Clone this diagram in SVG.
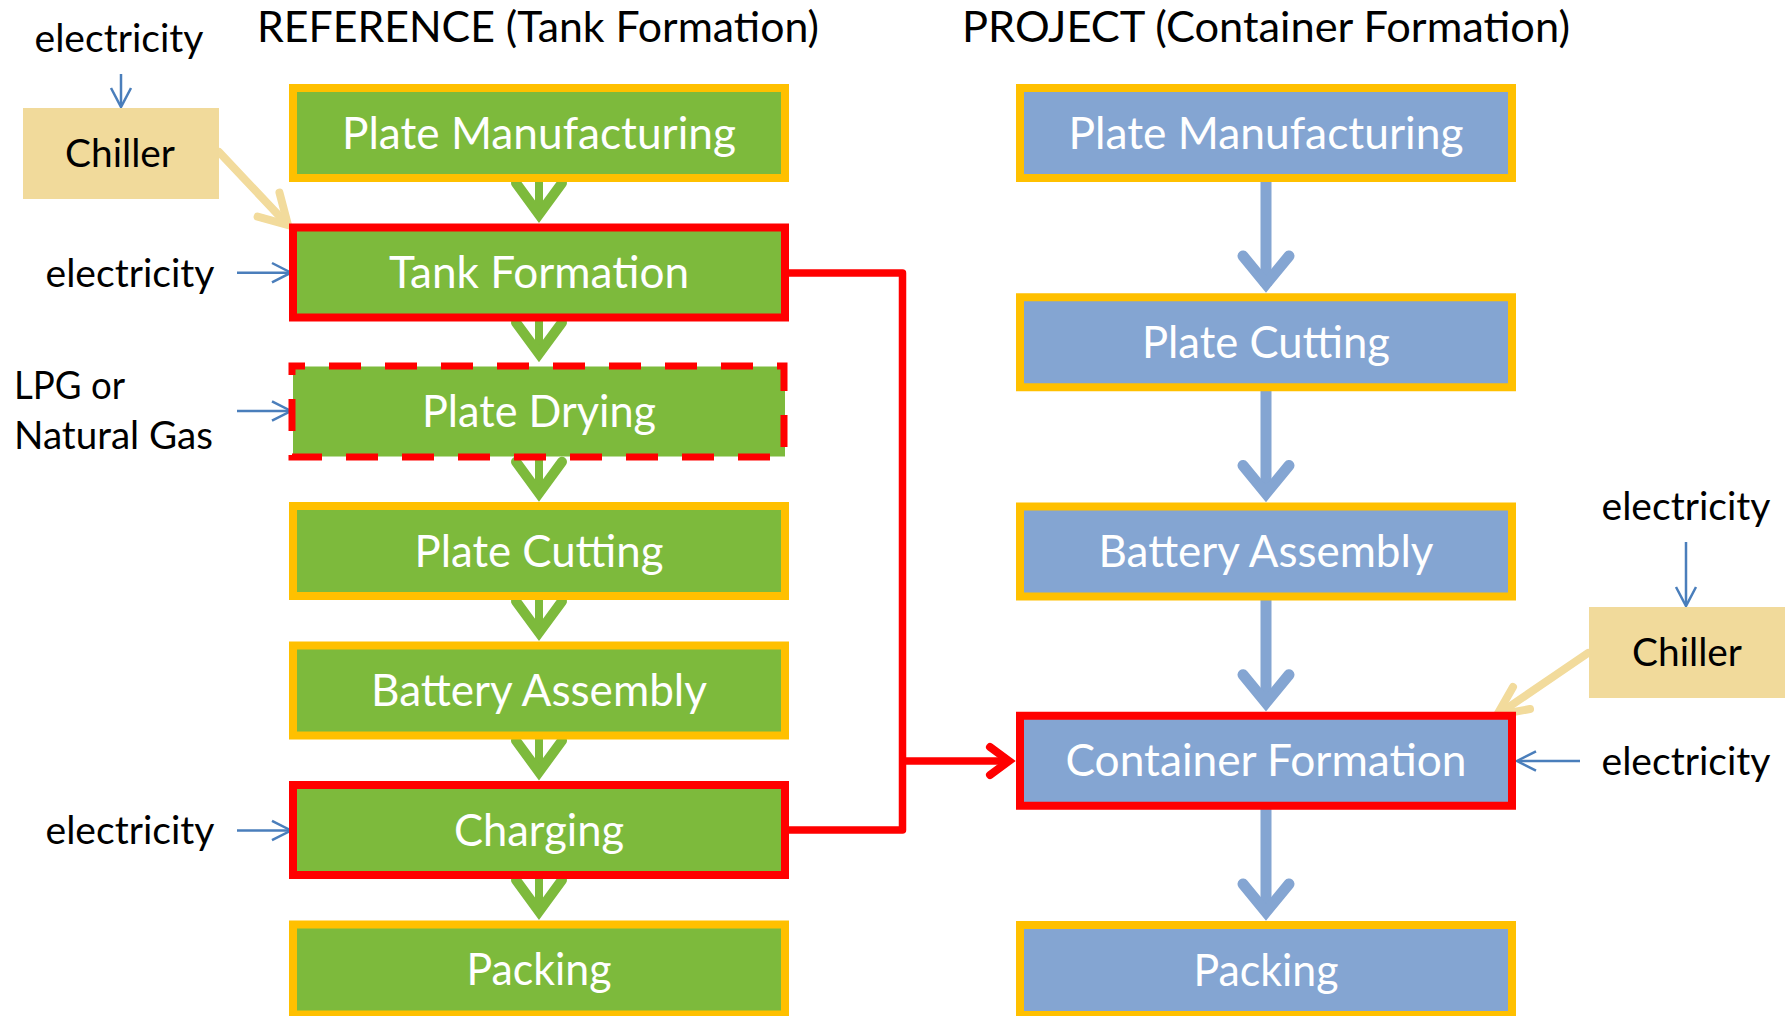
<svg xmlns="http://www.w3.org/2000/svg" width="1789" height="1016" viewBox="0 0 1789 1016">
<style>
text { font-family: Lato, "Open Sans", "Liberation Sans", sans-serif; }
.title { font-size: 43px; fill: #000; text-anchor: middle; }
.lbl { font-size: 38px; fill: #000; }
.mid { text-anchor: middle; }
.bt { font-size: 44px; fill: #fff; text-anchor: middle; }
.gbox { fill: #7DBA3C; stroke: #FFC000; stroke-width: 8; }
.gred { fill: #7DBA3C; stroke: #FF0000; stroke-width: 8; }
.bbox { fill: #84A5D2; stroke: #FFC000; stroke-width: 8; }
.bred { fill: #84A5D2; stroke: #FF0000; stroke-width: 8; }
.chiller { fill: #F1DA9B; }
.garr { stroke: #7DBA3C; fill: none; }
.barr { stroke: #84A5D2; fill: none; }
.thin { stroke: #4A7EBB; stroke-width: 2.5; fill: none; }
.tan { stroke: #F2DB9C; stroke-width: 8; fill: none; stroke-linecap: round; }
.red { stroke: #FF0000; stroke-width: 7.5; fill: none; stroke-linejoin: round; }
</style>

<text class="title" x="538" y="42" textLength="562" lengthAdjust="spacingAndGlyphs">REFERENCE (Tank Formation)</text>
<text class="title" x="1266" y="42" textLength="608" lengthAdjust="spacingAndGlyphs">PROJECT (Container Formation)</text>

<g id="connectors">
  <g class="garr">
    <g id="ga1"><line x1="539" y1="179" x2="539" y2="216" stroke-width="8"/><polyline points="516,183 539,214.5 562,183" stroke-width="10" stroke-linecap="round"/></g>
    <g id="ga2"><line x1="539" y1="318" x2="539" y2="355" stroke-width="8"/><polyline points="516,322.5 539,353.7 562,322.5" stroke-width="10" stroke-linecap="round"/></g>
    <g id="ga3"><line x1="539" y1="457" x2="539" y2="494" stroke-width="8"/><polyline points="516,461.7 539,493.2 562,461.7" stroke-width="10" stroke-linecap="round"/></g>
    <g id="ga4"><line x1="539" y1="597" x2="539" y2="634" stroke-width="8"/><polyline points="516,601.2 539,632.6 562,601.2" stroke-width="10" stroke-linecap="round"/></g>
    <g id="ga5"><line x1="539" y1="736" x2="539" y2="773" stroke-width="8"/><polyline points="516,740.6 539,772 562,740.6" stroke-width="10" stroke-linecap="round"/></g>
    <g id="ga6"><line x1="539" y1="876" x2="539" y2="913" stroke-width="8"/><polyline points="516,880 539,911.5 562,880" stroke-width="10" stroke-linecap="round"/></g>
  </g>
  <g class="barr">
    <g id="ba1"><line x1="1266" y1="178" x2="1266" y2="286" stroke-width="11"/><polyline points="1243,256 1266,284 1289,256" stroke-width="11" stroke-linecap="round"/></g>
    <g id="ba2"><line x1="1266" y1="387" x2="1266" y2="495" stroke-width="11"/><polyline points="1243,465.5 1266,493.5 1289,465.5" stroke-width="11" stroke-linecap="round"/></g>
    <g id="ba3"><line x1="1266" y1="596" x2="1266" y2="704" stroke-width="11"/><polyline points="1243,674.75 1266,702.75 1289,674.75" stroke-width="11" stroke-linecap="round"/></g>
    <g id="ba4"><line x1="1266" y1="806" x2="1266" y2="913" stroke-width="11"/><polyline points="1243,884 1266,912 1289,884" stroke-width="11" stroke-linecap="round"/></g>
  </g>
  <g class="thin">
    <line x1="121" y1="74" x2="121" y2="106"/><polyline points="111,88 121,107 131,88"/>
    <line x1="237" y1="272.7" x2="290" y2="272.7"/><polyline points="272,263 291,272.7 272,282.4"/>
    <line x1="237" y1="411" x2="290" y2="411"/><polyline points="272,401.3 291,411 272,420.7"/>
    <line x1="237" y1="830.5" x2="290" y2="830.5"/><polyline points="272,820.8 291,830.5 272,840.2"/>
    <line x1="1686" y1="542" x2="1686" y2="605"/><polyline points="1676,587 1686,606 1696,587"/>
    <line x1="1580" y1="761" x2="1518" y2="761"/><polyline points="1536,751.3 1517,761 1536,770.7"/>
  </g>
  <g class="tan">
    <line x1="219" y1="152" x2="285" y2="222"/><polyline points="257.6,216.7 288,225 279.5,192.7"/>
    <line x1="1588" y1="653" x2="1500" y2="713"/><polyline points="1513,687 1497,715 1530,709"/>
  </g>
  <g class="red">
    <path d="M789 273 H902.5 V830 H789"/>
    <path d="M902.5 761 H1010"/>
    <polyline points="990,747 1009,761 990,775" stroke-width="8" stroke-linecap="round" stroke-linejoin="miter"/>
  </g>
</g>

<g id="l_plate_manufacturing"><rect class="gbox" x="293" y="88" width="492" height="90"/><text class="bt" x="539" y="148.5" textLength="394" lengthAdjust="spacingAndGlyphs">Plate Manufacturing</text></g>
<g id="l_tank_formation"><rect class="gred" x="293" y="227.5" width="492" height="90"/><text class="bt" x="539" y="288" textLength="300" lengthAdjust="spacingAndGlyphs">Tank Formation</text></g>
<g id="l_plate_drying"><rect x="293" y="366.5" width="492" height="90" fill="#7DBA3C"/><rect x="292" y="366" width="492" height="91" fill="none" stroke="#FF0000" stroke-width="7" stroke-dasharray="32 24" stroke-dashoffset="19"/><text class="bt" x="539" y="427" textLength="234" lengthAdjust="spacingAndGlyphs">Plate Drying</text></g>
<g id="l_plate_cutting"><rect class="gbox" x="293" y="506" width="492" height="90"/><text class="bt" x="539" y="566.5" textLength="249" lengthAdjust="spacingAndGlyphs">Plate Cutting</text></g>
<g id="l_battery_assembly"><rect class="gbox" x="293" y="645.5" width="492" height="90"/><text class="bt" x="539" y="706" textLength="336" lengthAdjust="spacingAndGlyphs">Battery Assembly</text></g>
<g id="l_charging"><rect class="gred" x="293" y="785" width="492" height="90"/><text class="bt" x="539" y="845.5" textLength="170" lengthAdjust="spacingAndGlyphs">Charging</text></g>
<g id="l_packing"><rect class="gbox" x="293" y="924.5" width="492" height="90"/><text class="bt" x="539" y="985" textLength="145" lengthAdjust="spacingAndGlyphs">Packing</text></g>

<g id="r_plate_manufacturing"><rect class="bbox" x="1020" y="88" width="492" height="90"/><text class="bt" x="1266" y="148.5" textLength="395" lengthAdjust="spacingAndGlyphs">Plate Manufacturing</text></g>
<g id="r_plate_cutting"><rect class="bbox" x="1020" y="297.25" width="492" height="90"/><text class="bt" x="1266" y="357.75" textLength="248" lengthAdjust="spacingAndGlyphs">Plate Cutting</text></g>
<g id="r_battery_assembly"><rect class="bbox" x="1020" y="506.5" width="492" height="90"/><text class="bt" x="1266" y="567" textLength="335" lengthAdjust="spacingAndGlyphs">Battery Assembly</text></g>
<g id="r_container_formation"><rect class="bred" x="1020" y="715.75" width="492" height="90"/><text class="bt" x="1266" y="776" textLength="401" lengthAdjust="spacingAndGlyphs">Container Formation</text></g>
<g id="r_packing"><rect class="bbox" x="1020" y="925" width="492" height="90"/><text class="bt" x="1266" y="985.5" textLength="145" lengthAdjust="spacingAndGlyphs">Packing</text></g>

<g id="chiller_left"><rect class="chiller" x="23" y="108" width="196" height="91"/><text class="lbl mid" x="120" y="166.5" textLength="110" lengthAdjust="spacingAndGlyphs">Chiller</text></g>
<g id="chiller_right"><rect class="chiller" x="1589" y="607" width="196" height="91"/><text class="lbl mid" x="1687" y="666" textLength="110" lengthAdjust="spacingAndGlyphs">Chiller</text></g>

<g id="labels">
  <text class="lbl mid" x="119" y="52" textLength="169" lengthAdjust="spacingAndGlyphs">electricity</text>
  <text class="lbl mid" x="130" y="287" textLength="169" lengthAdjust="spacingAndGlyphs">electricity</text>
  <text class="lbl" x="14" y="399" textLength="111" lengthAdjust="spacingAndGlyphs">LPG or</text>
  <text class="lbl" x="14" y="449" textLength="199" lengthAdjust="spacingAndGlyphs">Natural Gas</text>
  <text class="lbl mid" x="130" y="844" textLength="169" lengthAdjust="spacingAndGlyphs">electricity</text>
  <text class="lbl mid" x="1686" y="520" textLength="169" lengthAdjust="spacingAndGlyphs">electricity</text>
  <text class="lbl mid" x="1686" y="775" textLength="169" lengthAdjust="spacingAndGlyphs">electricity</text>
</g>
</svg>
